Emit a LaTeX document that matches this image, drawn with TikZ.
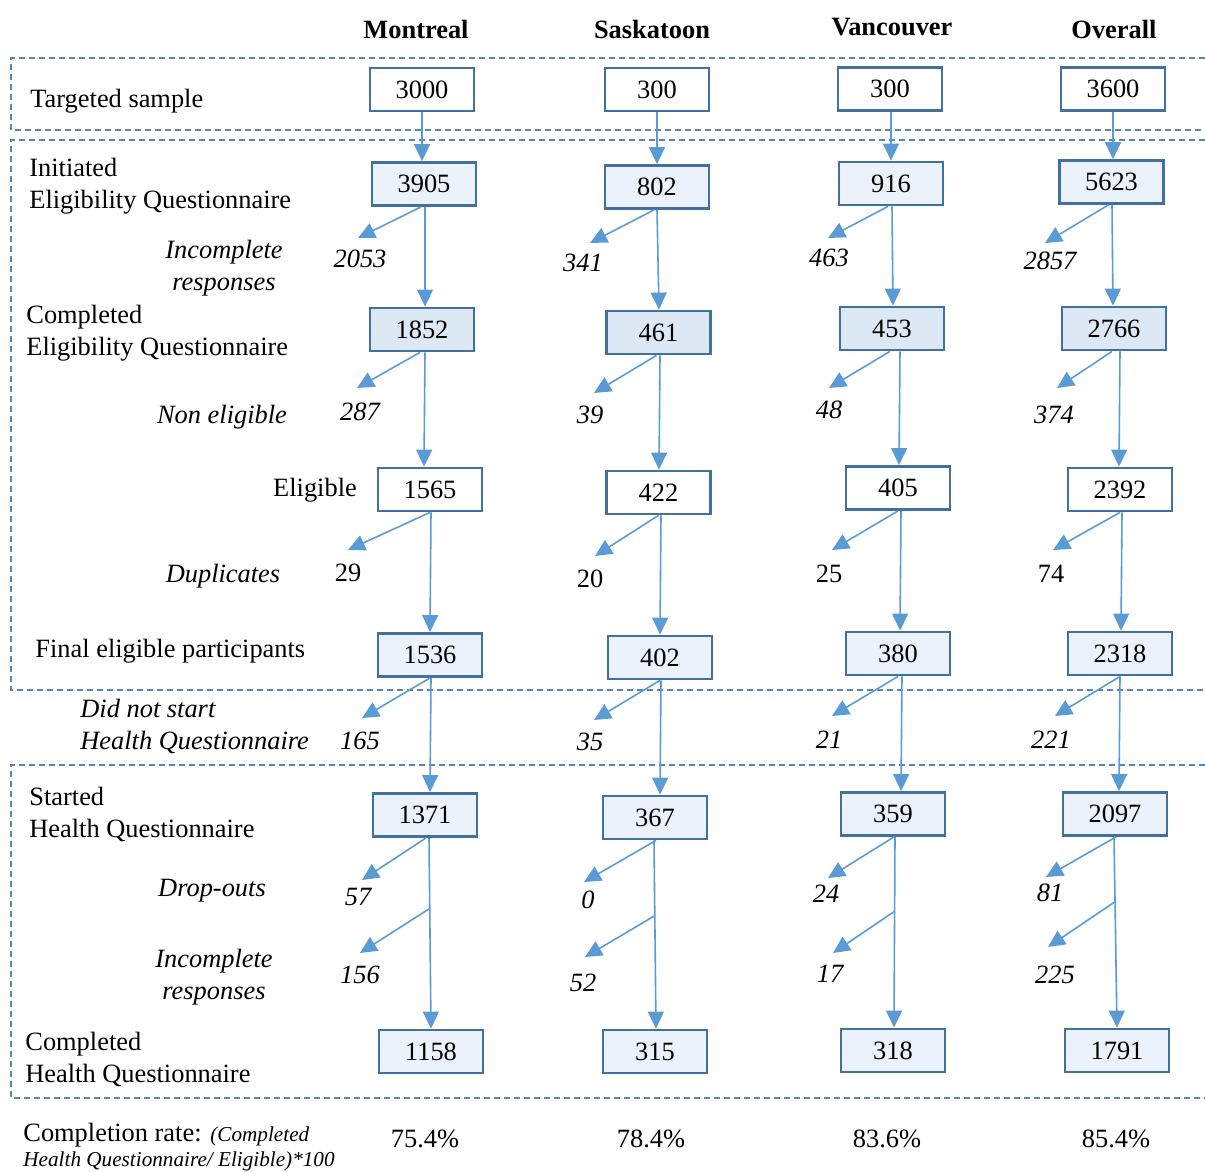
\documentclass[tikz,border=0pt]{standalone}
\usepackage{fontspec}
\setmainfont{Liberation Serif}
\usetikzlibrary{arrows.meta,calc}
\definecolor{boxc}{HTML}{41719C}
\definecolor{arrc}{HTML}{5B9BD5}
\definecolor{dashc}{HTML}{5585BA}
\definecolor{fillA}{HTML}{EBF2FB}
\definecolor{fillB}{HTML}{DDE8F5}
\begin{document}
\begin{tikzpicture}[x=0.5pt,y=-0.5pt,
  font=\fontsize{13.2}{16}\selectfont,
  numbox/.style={draw=boxc,line width=1.4pt,minimum width=52pt,minimum height=21.5pt,inner sep=0pt},
  flow/.style={draw=arrc,line width=0.8pt,-{Triangle[length=8.5pt,width=8pt]}},
  grp/.style={draw=dashc,line width=0.6pt,dash pattern=on 3pt off 2pt},
  lab/.style={anchor=west,align=left,inner sep=0pt},
  ilab/.style={font=\fontsize{13.2}{16}\selectfont\itshape,align=center,inner sep=0pt},
  cnt/.style={font=\fontsize{13.2}{16}\selectfont\itshape,inner sep=0pt},
  ucnt/.style={inner sep=0pt},
  hdr/.style={font=\fontsize{13.2}{16}\selectfont\bfseries,inner sep=0pt}]
\useasboundingbox (0,0) rectangle (1205,1172);

% group frames
\draw[grp] (1205,58) -- (11,58) -- (11,130) -- (1205,130);
\draw[grp] (1205,140) -- (11,140) -- (11,690) -- (1205,690);
\draw[grp] (1205,765) -- (11,765) -- (11,1098) -- (1205,1098);

% headers
\node[hdr] (hm) at (416,29) {Montreal};
\node[hdr] (hs) at (652,29) {Saskatoon};
\node[hdr] (hv) at (892,27) {Vancouver};
\node[hdr] (ho) at (1114,29) {Overall};

% row labels
\node[lab] (l1) at (30,101) {Targeted sample};
\node[lab] (l2) at (29,186) {Initiated\\Eligibility Questionnaire};
\node[ilab] (l2b) at (224,268) {Incomplete\\responses};
\node[lab] (l3) at (26,333) {Completed\\Eligibility Questionnaire};
\node[ilab] (l3b) at (222,417) {Non eligible};
\node[ucnt] (l4) at (315,490) {Eligible};
\node[ilab] (l4b) at (223,576) {Duplicates};
\node[lab] (l5) at (35,651) {Final eligible participants};
\node[lab,font=\fontsize{13.2}{16}\selectfont\itshape] (l5b) at (80,726) {Did not start\\Health Questionnaire};
\node[lab] (l6) at (29,814) {Started\\Health Questionnaire};
\node[ilab] (l6b) at (212,891) {Drop-outs};
\node[ilab] (l6c) at (214,977) {Incomplete\\responses};
\node[lab] (l7) at (25,1059) {Completed\\Health Questionnaire};
\node[lab,anchor=base west] (cr1) at (23,1141) {Completion rate: {\fontsize{10.6}{12}\selectfont\itshape (Completed}};
\node[lab,anchor=base west,font=\fontsize{10.6}{12}\selectfont\itshape] (cr2) at (23,1166) {Health Questionnaire/ Eligible)*100};

% boxes
\node[numbox] (m1) at (422,89.5) {3000};
\node[numbox] (s1) at (657,89.5) {300};
\node[numbox] (v1) at (890,89) {300};
\node[numbox] (o1) at (1113,89) {3600};

\node[numbox,fill=fillA] (m2) at (424,184) {3905};
\node[numbox,fill=fillA] (s2) at (657,187) {802};
\node[numbox,fill=fillA] (v2) at (891,183.5) {916};
\node[numbox,fill=fillA] (o2) at (1111.5,182) {5623};

\node[numbox,fill=fillB] (m3) at (422,329.5) {1852};
\node[numbox,fill=fillB] (s3) at (658.5,332.5) {461};
\node[numbox,fill=fillB] (v3) at (892,328.5) {453};
\node[numbox,fill=fillB] (o3) at (1114,328.5) {2766};

\node[numbox] (m4) at (430,489.5) {1565};
\node[numbox] (s4) at (658.5,492.5) {422};
\node[numbox] (v4) at (898,488) {405};
\node[numbox] (o4) at (1120,489.5) {2392};

\node[numbox,fill=fillA] (m5) at (430,655) {1536};
\node[numbox,fill=fillA] (s5) at (660,657.5) {402};
\node[numbox,fill=fillA] (v5) at (898,653.5) {380};
\node[numbox,fill=fillA] (o5) at (1120,653.5) {2318};

\node[numbox,fill=fillA] (m6) at (425,815) {1371};
\node[numbox,fill=fillA] (s6) at (655,817.5) {367};
\node[numbox,fill=fillA] (v6) at (893,814) {359};
\node[numbox,fill=fillA] (o6) at (1115,814) {2097};

\node[numbox,fill=fillA] (m7) at (431,1051.5) {1158};
\node[numbox,fill=fillA] (s7) at (655,1051.5) {315};
\node[numbox,fill=fillA] (v7) at (893,1050.5) {318};
\node[numbox,fill=fillA] (o7) at (1117,1050.5) {1791};

% vertical flow (offsets of the line ends from box centres)
\foreach \c/\a/\b/\da/\db in {
  m/1/2/0/-2, m/2/3/1/3, m/3/4/3/-6, m/4/5/1/0, m/5/6/1/5,
  s/1/2/0/0, s/2/3/0/0.5, s/3/4/1.5/0.5, s/4/5/2.5/0, s/5/6/1/5,
  v/1/2/1/0, v/2/3/1/1, v/3/4/8/1, v/4/5/3/2, v/5/6/4/8,
  o/1/2/0/1.5, o/2/3/0.5/-1, o/3/4/6/-1, o/4/5/2/1, o/5/6/0/4}{
  \draw[flow] ($(\c\a.south)+(\da,0)$) -- ($(\c\b.north)+(\db,0)$);
}
% last segment, with branch point
\foreach \c/\da/\db/\f in {m/4/0/0.37, s/-1/1/0.40, v/2/1/0.39, o/-1/0/0.34}{
  \coordinate (\c6o) at ($(\c6.south)+(\da,0)$);
  \coordinate (\c7i) at ($(\c7.north)+(\db,0)$);
  \coordinate (b7\c) at ($(\c6o)!\f!(\c7i)$);
  \draw[flow] (\c6o) -- (\c7i);
}

% side counts
\node[cnt] (n2m) at (360,259) {2053};
\node[cnt] (n2s) at (583,263) {341};
\node[cnt] (n2v) at (829,258) {463};
\node[cnt] (n2o) at (1050,261) {2857};
\node[cnt] (n3m) at (360,412) {287};
\node[cnt] (n3s) at (590,415) {39};
\node[cnt] (n3v) at (829,410) {48};
\node[cnt] (n3o) at (1054,415) {374};
\node[ucnt] (n4m) at (348,573) {29};
\node[ucnt] (n4s) at (590,579) {20};
\node[ucnt] (n4v) at (829,574) {25};
\node[ucnt] (n4o) at (1051,574) {74};
\node[cnt] (n5m) at (360,741) {165};
\node[cnt] (n5s) at (590,742) {35};
\node[cnt] (n5v) at (829,740) {21};
\node[cnt] (n5o) at (1051,740) {221};
\node[cnt] (n6m) at (358,897) {57};
\node[cnt] (n6s) at (588,900) {0};
\node[cnt] (n6v) at (826,894) {24};
\node[cnt] (n6o) at (1050,893) {81};
\node[cnt] (n7m) at (360,975) {156};
\node[cnt] (n7s) at (583,983) {52};
\node[cnt] (n7v) at (830,974) {17};
\node[cnt] (n7o) at (1055,975) {225};

% arrow tips
\coordinate (t2m) at (358,238); \coordinate (t2s) at (590,243);
\coordinate (t2v) at (828,238); \coordinate (t2o) at (1045,243);
\coordinate (t3m) at (357,388); \coordinate (t3s) at (594,393);
\coordinate (t3v) at (829,388); \coordinate (t3o) at (1057,388);
\coordinate (t4m) at (348,550); \coordinate (t4s) at (595,556);
\coordinate (t4v) at (832,550); \coordinate (t4o) at (1053,550);
\coordinate (t5m) at (362,718); \coordinate (t5s) at (594,720);
\coordinate (t5v) at (832,716); \coordinate (t5o) at (1055,716);
\coordinate (t6m) at (362,880); \coordinate (t6s) at (584,882);
\coordinate (t6v) at (828,878); \coordinate (t6o) at (1046,877);
\coordinate (t7m) at (360,953); \coordinate (t7s) at (585,957);
\coordinate (t7v) at (833,953); \coordinate (t7o) at (1048,947);

\foreach \c in {m,s,v,o}{
  \draw[flow] ($(\c2.south)+(-3,0)$) -- (t2\c);
  \draw[flow] ($(\c3.south)+(-2,0)$) -- (t3\c);
  \draw[flow] (\c4.south) -- (t4\c);
  \draw[flow] (\c5.south) -- (t5\c);
  \draw[flow] ($(\c6.south)+(1,0)$) -- (t6\c);
  \draw[flow] (b7\c) -- (t7\c);
}

% completion rates
\node[ucnt] (pm) at (425,1139) {75.4\%};
\node[ucnt] (ps) at (651,1139) {78.4\%};
\node[ucnt] (pv) at (887,1139) {83.6\%};
\node[ucnt] (po) at (1116,1139) {85.4\%};
\end{tikzpicture}
\end{document}
